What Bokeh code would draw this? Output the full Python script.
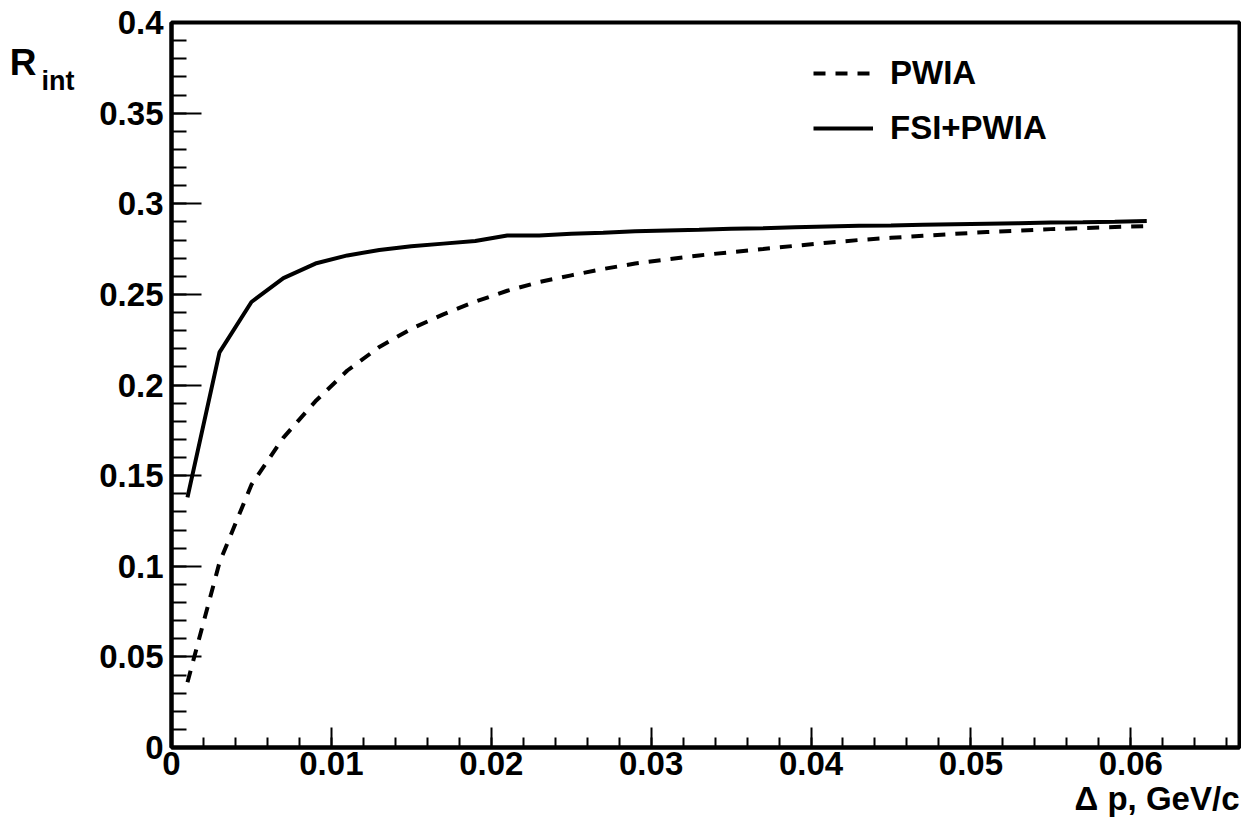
from bokeh.plotting import figure
from bokeh.models import FixedTicker, Range1d, Legend, LegendItem, Title, LinearAxis
from bokeh.embed import file_html
from bokeh.resources import INLINE

# data
dp = [0.001, 0.003, 0.005, 0.007, 0.009, 0.011, 0.013, 0.015, 0.017, 0.019,
      0.021, 0.023, 0.025, 0.027, 0.029, 0.031, 0.033, 0.035, 0.037, 0.039,
      0.041, 0.043, 0.045, 0.047, 0.049, 0.051, 0.053, 0.055, 0.057, 0.059, 0.061]
pwia = [0.036, 0.102, 0.145, 0.171, 0.191, 0.208, 0.221, 0.231, 0.239, 0.246,
        0.252, 0.2568, 0.2605, 0.264, 0.267, 0.2693, 0.2715, 0.2733, 0.275, 0.2768,
        0.2785, 0.280, 0.2812, 0.2823, 0.2834, 0.2844, 0.2852, 0.286, 0.2866, 0.2872, 0.2877]
fsi_pwia = [0.138, 0.218, 0.2458, 0.259, 0.267, 0.2715, 0.2745, 0.2765, 0.278, 0.2795,
            0.2825, 0.2825, 0.2835, 0.284, 0.2848, 0.2853, 0.2857, 0.2862, 0.2865, 0.287,
            0.2874, 0.2878, 0.288, 0.2884, 0.2887, 0.289, 0.2893, 0.2896, 0.2898, 0.2901, 0.2905]

x_ticks = [0, 0.01, 0.02, 0.03, 0.04, 0.05, 0.06]
x_tick_labels = ["0", "0.01", "0.02", "0.03", "0.04", "0.05", "0.06"]
y_ticks = [0, 0.05, 0.1, 0.15, 0.2, 0.25, 0.3, 0.35, 0.4]
y_tick_labels = ["0", "0.05", "0.1", "0.15", "0.2", "0.25", "0.3", "0.35", "0.4"]

FONT = "Liberation Sans"

p = figure(width=1241, height=819, output_backend="svg", toolbar_location=None,
           x_range=Range1d(0, 0.0668), y_range=Range1d(0, 0.4),
           min_border_left=171, min_border_right=2, min_border_top=22, min_border_bottom=72)
p.xgrid.visible = False
p.ygrid.visible = False
p.outline_line_color = "black"
p.outline_line_width = 4
p.background_fill_color = "white"
p.border_fill_color = "white"

x_minor = [round(i * 0.002, 3) for i in range(0, 34)]
y_minor = [round(i * 0.01, 2) for i in range(0, 41)]

p.xaxis.ticker = FixedTicker(ticks=x_ticks, minor_ticks=x_minor)
p.yaxis.ticker = FixedTicker(ticks=y_ticks, minor_ticks=y_minor)
p.xaxis.major_label_overrides = dict(zip(x_ticks, x_tick_labels))
p.yaxis.major_label_overrides = dict(zip(y_ticks, y_tick_labels))

for ax, maj, mnr in ((p.xaxis, 20, 10), (p.yaxis, 30, 15)):
    ax.axis_line_width = 4
    ax.axis_line_color = "black"
    ax.major_tick_in = maj
    ax.major_tick_out = 0
    ax.minor_tick_in = mnr
    ax.minor_tick_out = 0
    ax.major_tick_line_width = 2
    ax.minor_tick_line_width = 2
    ax.major_label_text_font = FONT
    ax.major_label_text_font_style = "bold"
    ax.major_label_text_font_size = "33px"
    ax.major_label_text_color = "black"
p.xaxis.major_label_standoff = 4
p.yaxis.major_label_standoff = 8

r_dash = p.line(dp, pwia, line_color="black", line_width=4, line_dash="12 10")
r_solid = p.line(dp, fsi_pwia, line_color="black", line_width=4)

legend = Legend(items=[LegendItem(label="PWIA", renderers=[r_dash]),
                       LegendItem(label="FSI+PWIA", renderers=[r_solid])],
                location=(642, 599), padding=0, margin=0, spacing=15,
                glyph_width=60, glyph_height=40, label_height=40, label_standoff=17,
                label_text_font=FONT, label_text_font_style="bold",
                label_text_font_size="33px", label_text_color="black",
                border_line_alpha=0, background_fill_alpha=0)
p.add_layout(legend)

# y-axis title "R_int" drawn as tick labels of two extra (invisible) left axes
p.extra_y_ranges = {"ytitle": Range1d(0, 0.4)}


def title_axis(y_pos, text, size, standoff):
    ax = LinearAxis(y_range_name="ytitle",
                    ticker=FixedTicker(ticks=[y_pos], minor_ticks=[]),
                    major_label_overrides={y_pos: text},
                    axis_line_alpha=0, major_tick_line_alpha=0, minor_tick_line_alpha=0,
                    major_tick_in=0, major_tick_out=0, minor_tick_in=0, minor_tick_out=0,
                    major_label_standoff=standoff,
                    major_label_text_font=FONT, major_label_text_font_style="bold",
                    major_label_text_font_size=size, major_label_text_color="black")
    p.add_layout(ax, "left")
    return ax


title_axis(0.3675, "int", "27px", 22)
title_axis(0.378, "R", "37px", 2)

xtitle = Title(text="\u0394 p, GeV/c", align="right", text_font=FONT,
               text_font_style="bold", text_font_size="33px", text_color="black",
               standoff=0, offset=0)
p.add_layout(xtitle, "below")

open("out.html", "w").write(file_html(p, INLINE))
